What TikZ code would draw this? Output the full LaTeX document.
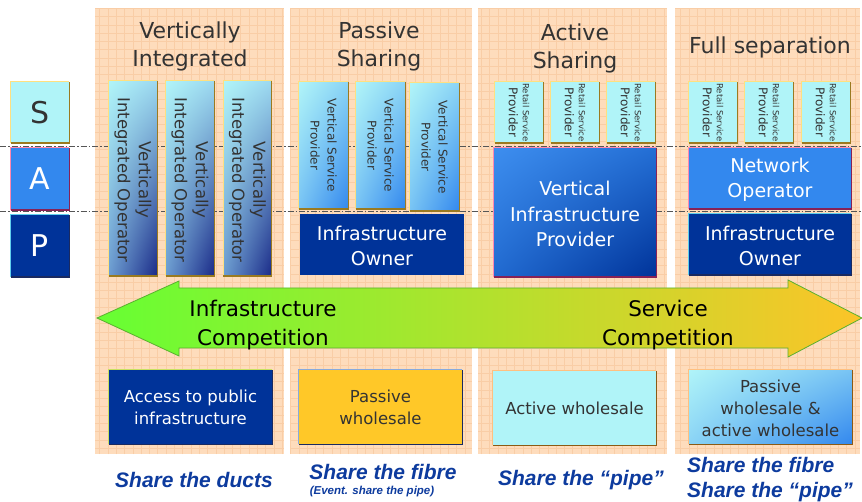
\documentclass[tikz,border=0pt]{standalone}
\usepackage{fontspec}
\usetikzlibrary{shadings}
\setmainfont{DejaVu Sans}
\newfontfamily\labfont{Liberation Sans}
\definecolor{peach}{HTML}{FEDCBC}
\definecolor{peachline}{HTML}{F9CDA6}
\definecolor{cyanbox}{HTML}{B0F4F8}
\definecolor{midblue}{HTML}{3388EE}
\definecolor{navy}{HTML}{003399}
\definecolor{gold}{HTML}{FFC828}
\definecolor{txt}{HTML}{333333}
\definecolor{labblue}{HTML}{0D3B9E}
\definecolor{olive}{HTML}{9A7A20}
\definecolor{lightyel}{HTML}{FFE080}
\definecolor{pinkedge}{HTML}{FF88B0}
\definecolor{maroon}{HTML}{882255}
\definecolor{cyanedge}{HTML}{60D0EE}
\definecolor{darknavy}{HTML}{1A2A60}
\definecolor{brownedge}{HTML}{8B5A14}
\definecolor{orangeedge}{HTML}{FFC080}
\definecolor{greenedge}{HTML}{C8E060}
\definecolor{blueedge}{HTML}{88AADD}
\definecolor{dashgray}{HTML}{555555}
\definecolor{arrgreen}{HTML}{66FF33}
\definecolor{arrmid}{HTML}{C8E830}
\definecolor{arrgold}{HTML}{FCC428}
\definecolor{arredge}{HTML}{5AB030}
\definecolor{viotr}{HTML}{9CD8F0}
\definecolor{viobl}{HTML}{6C9CD0}
\definecolor{viobr}{HTML}{1A2A88}
\newcommand\boxedges[3]{%
  \draw[#2,line width=1.2pt] (#1.south west) -- (#1.north west) -- (#1.north east);
  \draw[#3,line width=1.4pt] (#1.north east) -- (#1.south east) -- (#1.south west);}
\begin{document}
\begin{tikzpicture}[x=1pt,y=-1pt,
  box/.style={rectangle, inner sep=0pt, align=center},
  titletext/.style={text=txt, align=center, yshift=-2.5pt, font=\fontsize{22}{28}\selectfont},
  rotone/.style={rotate=-90, text=txt, align=center, font=\fontsize{16.5}{21}\selectfont},
  rottwo/.style={rotate=-90, text=txt, align=center, font=\fontsize{12}{17}\selectfont},
  rotretail/.style={rotate=-90, text=txt, align=center, font=\fontsize{12}{14}\selectfont},
  whitetext/.style={text=white, align=center, yshift=-1.5pt, font=\fontsize{19}{25.5}\selectfont},
  bottext/.style={align=center, font=\fontsize{16.5}{22}\selectfont},
  arrowtext/.style={text=black, align=center, yshift=-3pt, font=\fontsize{21.5}{29}\selectfont},
  sharelab/.style={text=labblue, font=\labfont\bfseries\itshape\fontsize{21}{25}\selectfont},
  letterbox/.style={box, minimum width=58pt, minimum height=62pt, font=\fontsize{30}{30}\selectfont},
  vio/.style={box, minimum width=48pt, minimum height=195pt, shade,
    upper left=cyanbox, upper right=viotr, lower left=viobl, lower right=viobr},
  vsp/.style={box, minimum width=49pt, minimum height=127pt, shade,
    upper left=cyanbox, upper right=cyanbox!70!midblue, lower left=cyanbox!55!midblue, lower right=midblue},
  retail/.style={box, fill=cyanbox, minimum width=48pt, minimum height=61pt},
  dashline/.style={dashgray, line width=0.8pt, dash pattern=on 6pt off 2pt on 1.5pt off 2pt}
]
\useasboundingbox (0,0) rectangle (862,502);
\fill[white] (0,0) rectangle (862,502);

% column backgrounds
\foreach \a/\b in {95/284,290/472,478/667,675/860}{
  \fill[peach] (\a,8) rectangle (\b,454);
  \begin{scope}
    \clip (\a,8) rectangle (\b,454);
    \draw[peachline,line width=0.6pt] (\a,8) grid[step=8.3pt] (\b,454);
  \end{scope}
}

% layer separators
\coordinate (la1) at (0,146);
\coordinate (lb1) at (862,146);
\coordinate (la2) at (0,211);
\coordinate (lb2) at (862,211);
\draw[dashline] (la1) -- (lb1);
\draw[dashline] (la2) -- (lb2);

% S A P
\node[letterbox, fill=cyanbox, text=txt, minimum height=61pt] (S) at (40,112.5) {S};
\boxedges{S}{lightyel}{olive}
\node[letterbox, fill=midblue, text=white] (A) at (40,179) {A};
\boxedges{A}{pinkedge}{maroon}
\node[letterbox, fill=navy, text=white] (P) at (40,246) {P};
\boxedges{P}{cyanedge}{darknavy}

% titles
\node[titletext] (t1) at (190,44) {Vertically\\Integrated};
\node[titletext] (t2) at (379,44) {Passive\\Sharing};
\node[titletext] (t3) at (575,46) {Active\\Sharing};
\node[titletext] (t4) at (770,45) {Full separation};

% column 1: vertically integrated operators
\foreach \n/\x in {1/133,2/190,3/247.5}{
  \node[vio] (vio\n) at (\x,178.5) {};
  \boxedges{vio\n}{lightyel}{olive}
  \node[rotone] (viot\n) at ([yshift=-1.5pt]vio\n.center) {Vertically\\Integrated Operator};
}

% column 2: vertical service providers
\node[vsp] (vsp1) at (323.5,145.5) {};
\node[vsp] (vsp2) at (380.5,145.5) {};
\node[vsp, minimum height=128pt] (vsp3) at (434.5,147) {};
\foreach \n in {1,2,3}{
  \boxedges{vsp\n}{lightyel}{olive}
  \node[rottwo] (vspt\n) at (vsp\n.center) {Vertical Service\\Provider};
}
\node[box, fill=navy, minimum width=164pt, minimum height=61pt] (io2) at (382,244.5) {};
\node[whitetext] (io2t) at (io2.center) {Infrastructure\\Owner};

% column 3
\foreach \n/\x in {1/519,2/575,3/631}{
  \node[retail] (rsa\n) at (\x,112.5) {};
  \boxedges{rsa\n}{lightyel}{olive}
  \node[rotretail] (rsat\n) at (rsa\n.center) {{\fontsize{8.5}{14}\selectfont Retail Service}\\Provider};
}
\node[box, minimum width=162pt, minimum height=129pt, shade,
  upper left=midblue!95!white, upper right=midblue!70!navy, lower left=midblue!65!navy, lower right=navy] (vip) at (575,212.5) {};
\boxedges{vip}{pinkedge}{maroon}
\node[whitetext] (vipt) at (vip.center) {Vertical\\Infrastructure\\Provider};

% column 4
\foreach \n/\x in {1/713,2/769,3/826}{
  \node[retail] (rsb\n) at (\x,112.5) {};
  \boxedges{rsb\n}{lightyel}{olive}
  \node[rotretail] (rsbt\n) at (rsb\n.center) {{\fontsize{8.5}{14}\selectfont Retail Service}\\Provider};
}
\node[box, fill=midblue, minimum width=162pt, minimum height=61pt] (no) at (770,178.5) {};
\boxedges{no}{pinkedge}{maroon}
\node[whitetext] (not) at (no.center) {Network\\Operator};
\node[box, fill=navy, minimum width=162pt, minimum height=61pt] (io4) at (770,244.5) {};
\boxedges{io4}{cyanedge}{darknavy}
\node[whitetext] (io4t) at (io4.center) {Infrastructure\\Owner};

% competition arrow
\shade[left color=arrgreen, middle color=arrmid, right color=arrgold,
  draw=arredge, line width=0.8pt]
  (97,318) -- (179,281) -- (179,288) -- (788,288) -- (788,280) -- (862,318)
  -- (788,357) -- (788,348) -- (179,348) -- (179,356) -- cycle;
\node[arrowtext] (ic) at (263,322) {Infrastructure\\Competition};
\node[arrowtext] (sc) at (668,322) {Service\\Competition};

% bottom boxes
\node[box, fill=navy, minimum width=163pt, minimum height=74pt] (b1) at (190.5,407) {};
\boxedges{b1}{greenedge}{darknavy}
\node[bottext, text=white] (b1t) at (b1.center) {Access to public\\infrastructure};
\node[box, fill=gold, minimum width=163pt, minimum height=74pt] (b2) at (380.5,407) {};
\boxedges{b2}{blueedge}{darknavy}
\node[bottext, text=txt] (b2t) at (b2.center) {Passive\\wholesale};
\node[box, fill=cyanbox, minimum width=163pt, minimum height=74pt] (b3) at (574.5,408) {};
\boxedges{b3}{orangeedge}{brownedge}
\node[bottext, text=txt] (b3t) at (b3.center) {Active wholesale};
\node[box, minimum width=163pt, minimum height=74pt, shade,
  upper left=cyanbox, upper right=cyanbox!55!midblue, lower left=cyanbox!70!midblue, lower right=midblue] (b4) at (770.5,407) {};
\boxedges{b4}{orangeedge}{brownedge}
\node[bottext, text=txt] (b4t) at ([yshift=-1pt]b4.center) {Passive\\wholesale \&\\active wholesale};

% bottom labels
\node[sharelab] (s1) at (194,479.5) {Share the ducts};
\node[sharelab] (s2) at (383,472) {Share the fibre};
\node[sharelab, font=\labfont\bfseries\itshape\fontsize{11.5}{13}\selectfont] (s2b) at (372,492) {(Event. share the pipe)};
\node[sharelab] (s3) at (581,480) {Share the “pipe”};
\node[sharelab, align=left, anchor=west, inner sep=0pt] (s4) at (687,480) {Share the fibre\\Share the “pipe”};
\end{tikzpicture}
\end{document}
